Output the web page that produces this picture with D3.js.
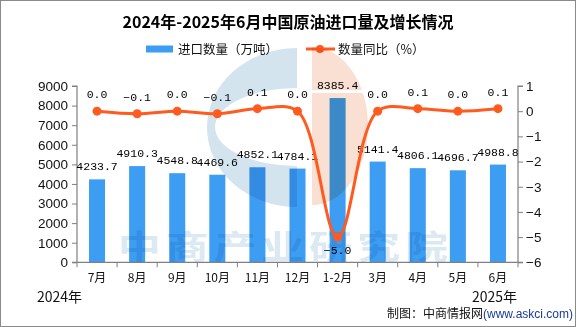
<!DOCTYPE html>
<html><head><meta charset="utf-8">
<script src="https://cdn.jsdelivr.net/npm/d3@7"></script>
<style>
html,body{margin:0;padding:0;background:#fff;}
svg{display:block;}
</style></head>
<body>
<svg id="chart" width="576" height="327"></svg>
<script>
const categories = ["7月","8月","9月","10月","11月","12月","1-2月","3月","4月","5月","6月"];
const importVolume = [4233.7,4910.3,4548.8,4469.6,4852.1,4784.1,8385.4,5141.4,4806.1,4696.7,4988.8];
const yoyChange = [0.0,-0.1,0.0,-0.1,0.1,0.0,-5.0,0.0,0.1,0.0,0.1];
const leftTicks = [0,1000,2000,3000,4000,5000,6000,7000,8000,9000];
const rightTicks = [1,0,-1,-2,-3,-4,-5,-6];

const W=576,H=327;
const svg=d3.select("#chart");
const M={left:77,right:518,top:86,bottom:262.3};
const cjk='"Noto Sans CJK SC","Noto Sans",sans-serif';
const mono='"Liberation Mono","DejaVu Sans Mono",monospace';
const sans='"Liberation Sans",Arial,sans-serif';

svg.append("rect").attr("x",0.5).attr("y",0.5).attr("width",W-1).attr("height",H-1)
  .attr("fill","#fff").attr("stroke","#8a8a8a");

const x=d3.scaleBand().domain(categories).range([M.left,M.right]).paddingInner(0.6).paddingOuter(0.3);
const xb=d3.scaleBand().domain(categories).range([M.left,M.right]);
const yL=d3.scaleLinear().domain([0,9000]).range([M.bottom,M.top]);
const yR=d3.scaleLinear().domain([-6,1]).range([M.bottom,M.top]);

// title
svg.append("text").attr("x",288).attr("y",28).attr("text-anchor","middle")
  .attr("font-family",cjk).attr("font-weight","bold").attr("font-size",16).attr("fill","#000")
  .text("2024年-2025年6月中国原油进口量及增长情况");

// legend
const lg=svg.append("g");
lg.append("rect").attr("x",146).attr("y",45.5).attr("width",27).attr("height",7).attr("fill","#3d9df2");
lg.append("text").attr("x",178).attr("y",53.5).attr("font-family",cjk).attr("font-size",12.5).attr("fill","#111").text("进口数量（万吨）");
lg.append("line").attr("x1",306).attr("x2",335).attr("y1",49).attr("y2",49).attr("stroke","#ff5a1f").attr("stroke-width",3);
lg.append("circle").attr("cx",320).attr("cy",49).attr("r",4).attr("fill","#ff5a1f");
lg.append("text").attr("x",338).attr("y",53.5).attr("font-family",cjk).attr("font-size",12.5).attr("fill","#111").text("数量同比（%）");

// bars
svg.append("g").selectAll("rect").data(importVolume).join("rect")
  .attr("x",(d,i)=>x(categories[i])).attr("width",x.bandwidth())
  .attr("y",d=>yL(d)).attr("height",d=>yL(0)-yL(d)).attr("fill","#3d9df2");

// watermark logo (multiplied over bars)
const wm=svg.append("g").attr("pointer-events","none");
wm.append("path")
  .attr("d","M297,48 A90,79.5 0 0 0 297,207 L297,166 A82,39 0 0 1 297,88 Z")
  .attr("fill","#d3e4ef").style("mix-blend-mode","multiply");
wm.append("path")
  .attr("d","M312,47 A56,79 0 0 1 312,205 Z")
  .attr("fill","#fadfd3").style("mix-blend-mode","multiply");
wm.append("rect").attr("x",311).attr("y",90).attr("width",60).attr("height",3).attr("fill","#fff");
wm.append("text").attr("transform","translate(118,259) scale(1.3,1)")
  .attr("font-family",cjk).attr("font-weight","bold").attr("font-size",33).attr("letter-spacing",3.8)
  .attr("fill","#dbe9f2").style("mix-blend-mode","multiply").text("中商产业研究院");

// axes
const axisColor="#808080";
const gL=svg.append("g").attr("transform",`translate(${M.left},0)`)
  .call(d3.axisLeft(yL).tickValues(leftTicks).tickSize(5).tickPadding(4).tickFormat(d3.format("d")));
const gR=svg.append("g").attr("transform",`translate(${M.right},0)`)
  .call(d3.axisRight(yR).tickValues(rightTicks).tickSize(5).tickPadding(3).tickFormat(d=>d<0?"\u2212"+Math.abs(d):d));
[gL,gR].forEach(g=>{
  g.select(".domain").attr("stroke",axisColor).attr("stroke-width",1.2);
  g.selectAll(".tick line").attr("stroke",axisColor);
  g.selectAll(".tick text").attr("font-family",sans).attr("font-size",13.5).attr("fill","#111");
});
gL.select(".domain").attr("d",`M-5,${M.top}H0V${M.bottom}H-5`);
gR.select(".domain").attr("d",`M5,${M.top}H0V${M.bottom}H5`);

// x axis
const gX=svg.append("g").attr("transform",`translate(0,${M.bottom})`);
gX.append("line").attr("x1",M.left).attr("x2",M.right).attr("stroke",axisColor).attr("stroke-width",1.2);
const bounds=categories.map(c=>xb(c)).concat([M.right]);
gX.selectAll("line.t").data(bounds).join("line").attr("class","t")
  .attr("x1",d=>d).attr("x2",d=>d).attr("y1",0).attr("y2",5).attr("stroke",axisColor);
gX.selectAll("text").data(categories).join("text")
  .attr("x",d=>xb(d)+xb.bandwidth()/2).attr("y",20).attr("text-anchor","middle")
  .attr("font-family",cjk).attr("font-size",12).attr("fill","#111").text(d=>d);

// bar labels
svg.append("g").selectAll("text").data(importVolume).join("text")
  .attr("x",(d,i)=>xb(categories[i])+xb.bandwidth()/2).attr("y",d=>yL(d)-9)
  .attr("text-anchor","middle").attr("font-family",mono).attr("font-size",11.5).attr("fill","#000")
  .text(d=>d.toFixed(1));

// line
const cx=(i)=>xb(categories[i])+xb.bandwidth()/2;
const line=d3.line().x((d,i)=>cx(i)).y(d=>yR(d)).curve(d3.curveCatmullRom.alpha(0.5));
svg.append("path").datum(yoyChange).attr("d",line).attr("fill","none")
  .attr("stroke","#ff5a1f").attr("stroke-width",3);
svg.append("g").selectAll("circle").data(yoyChange).join("circle")
  .attr("cx",(d,i)=>cx(i)).attr("cy",d=>yR(d)).attr("r",4.5).attr("fill","#ff5a1f");
svg.append("g").selectAll("text").data(yoyChange).join("text")
  .attr("x",(d,i)=>cx(i)).attr("y",d=>d<-1?yR(d)+17:yR(d)-13)
  .attr("text-anchor","middle").attr("font-family",mono).attr("font-size",11.5).attr("fill","#000")
  .text(d=>(d<0?"\u2212":"")+Math.abs(d).toFixed(1));

// footer
svg.append("text").attr("x",37).attr("y",302).attr("font-family",cjk).attr("font-size",14).attr("fill","#111").text("2024年");
svg.append("text").attr("x",517).attr("y",302).attr("text-anchor","end").attr("font-family",cjk).attr("font-size",14).attr("fill","#111").text("2025年");
const ft=svg.append("text").attr("x",387).attr("y",317.5).attr("font-family",cjk).attr("font-size",12).attr("fill","#111");
ft.append("tspan").text("制图：中商情报网");
ft.append("tspan").attr("fill","#1a3a9a").attr("font-family",sans).attr("font-size",12).text("(www.askci.com)");
</script>
</body></html>
